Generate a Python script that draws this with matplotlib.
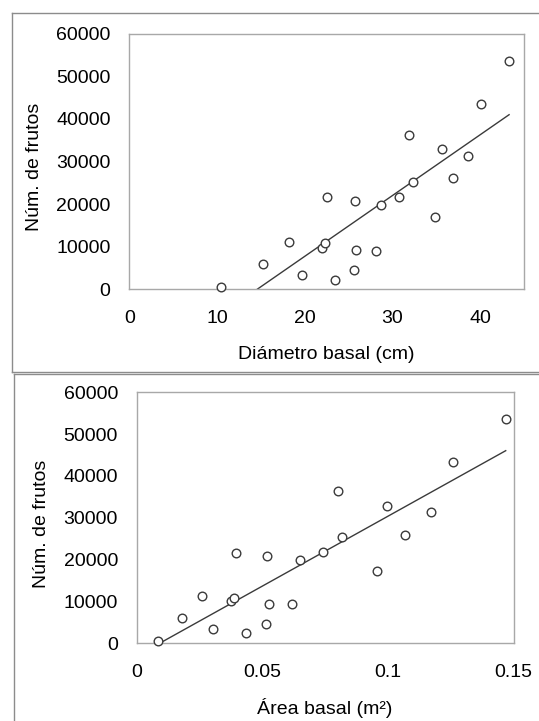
import numpy as np
import matplotlib
matplotlib.use("Agg")
import matplotlib.pyplot as plt
from matplotlib.lines import Line2D

plt.rcParams['font.family'] = ['Liberation Sans', 'DejaVu Sans']

# Basal diameter (cm) and fruit count per tree
diametro = [10.5, 15.25, 18.2, 19.7, 22.0, 22.3, 22.5, 23.5, 25.6, 25.7, 25.8,
            28.15, 28.7, 30.8, 31.9, 32.3, 34.9, 35.7, 36.9, 38.6, 40.1, 43.3]
frutos_d = [550, 5850, 11200, 3350, 9750, 10800, 21600, 2250, 4450, 20700, 9300,
            9100, 19700, 21700, 36200, 25200, 17000, 32800, 26100, 31300, 43400, 53600]

# Basal area (m2) and fruit count per tree
area = [0.0084, 0.0181, 0.0258, 0.0305, 0.0376, 0.0387, 0.0394, 0.0434, 0.0514,
        0.0517, 0.0525, 0.0619, 0.0649, 0.0743, 0.0802, 0.0818, 0.0957, 0.0997,
        0.1068, 0.1171, 0.1261, 0.1469]
frutos_a = [630, 6000, 11350, 3500, 10000, 10900, 21700, 2460, 4600, 20800, 9500,
            9300, 19800, 21900, 36300, 25400, 17200, 32800, 26000, 31300, 43400, 53700]

x_ticks_d = [0, 10, 20, 30, 40]
x_ticks_a = [0, 0.05, 0.1, 0.15]
x_ticklabels_a = ["0", "0.05", "0.1", "0.15"]
y_ticks = [0, 10000, 20000, 30000, 40000, 50000, 60000]

W, H = 539, 721
fig = plt.figure(figsize=(W / 100, H / 100), dpi=100)

FRAME = "#a8a8a8"
BORDER = "#8c8c8c"
INK = "#3a3a3a"
FS = 14


def px_box(left, top, right, bottom):
    return [left / W, 1 - bottom / H, (right - left) / W, (bottom - top) / H]


def panel(rect, x, y, xlim, xticks, xticklabels, xlabel, ylab_xy, xlab_y):
    ax = fig.add_axes(rect)
    ax.set_xlim(*xlim)
    ax.set_ylim(0, 60000)
    ax.set_xticks(xticks)
    ax.set_xticklabels(xticklabels)
    ax.set_yticks(y_ticks)
    ax.set_yticklabels([str(v) for v in y_ticks])
    for s in ax.spines.values():
        s.set_color(FRAME)
        s.set_linewidth(1.0)
    ax.tick_params(length=0, labelsize=FS, colors="black")
    ax.tick_params(axis="y", pad=13.5)
    ax.tick_params(axis="x", pad=15)

    # linear trend over the data range, clipped by the axis floor
    slope, intercept = np.polyfit(x, y, 1)
    xs = np.array([min(x), max(x)])
    ax.plot(xs, slope * xs + intercept, color=INK, lw=1.0, zorder=2)
    ax.plot(x, y, linestyle="none", marker="o", ms=6.2, mfc="white",
            mec=INK, mew=1.0, zorder=3, clip_on=False)

    ax.set_ylabel("Núm. de frutos", fontsize=FS, va="center", ha="center")
    ax.yaxis.set_label_coords(*ylab_xy)
    ax.set_xlabel(xlabel, fontsize=FS, va="center", ha="center")
    ax.xaxis.set_label_coords(0.5, xlab_y)
    return ax


panel(px_box(129.3, 33.5, 524, 289.3), diametro, frutos_d, (0, 45),
      x_ticks_d, [str(v) for v in x_ticks_d], "Diámetro basal (cm)",
      (-0.240, 0.479), -0.253)

panel(px_box(136.7, 392.3, 513.5, 643.3), area, frutos_a, (0, 0.15),
      x_ticks_a, x_ticklabels_a, "Área basal (m²)",
      (-0.253, 0.475), -0.259)

# outer panel borders
def hline(y, x0, x1):
    fig.add_artist(Line2D([x0 / W, x1 / W], [1 - y / H, 1 - y / H],
                          color=BORDER, lw=1.0))


def vline(x, y0, y1):
    fig.add_artist(Line2D([x / W, x / W], [1 - y0 / H, 1 - y1 / H],
                          color=BORDER, lw=1.0))


hline(13.3, 12.5, 545)
hline(371.5, 12.5, 545)
vline(12.5, 13.3, 371.5)
hline(373.5, 14, 545)
vline(14, 373.5, 730)

fig.savefig("out.png", dpi=100)
